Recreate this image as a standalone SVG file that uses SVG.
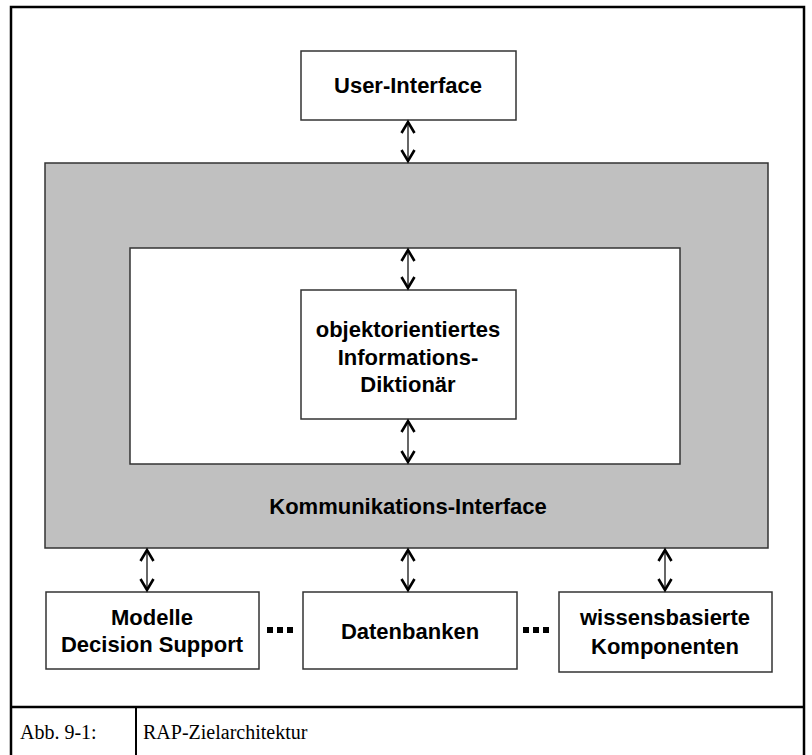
<svg xmlns="http://www.w3.org/2000/svg" width="812" height="755" viewBox="0 0 812 755">
  <style>
    .box { fill: #ffffff; stroke: #333333; stroke-width: 1.5; }
    .shell { fill: #c0c0c0; stroke: #333333; stroke-width: 1.5; }
    .lbl { font-family: "Liberation Sans", Arial, sans-serif; font-weight: bold; font-size: 22px; fill: #000000; text-anchor: middle; }
    .cap { font-family: "Liberation Serif", "Times New Roman", serif; font-size: 20px; fill: #000000; }
    .link { stroke: #000000; stroke-width: 1.2; fill: none; marker-start: url(#head); marker-end: url(#head); }
    .dots { fill: #000000; }
  </style>
  <defs>
    <!-- open chevron head; tip sits on the line end, points along the line -->
    <marker id="head" viewBox="-16 -8 18 16" refX="0" refY="0" markerWidth="18" markerHeight="16" markerUnits="userSpaceOnUse" orient="auto-start-reverse">
      <path d="M-12,-6.5 L-1,0 L-12,6.5" fill="none" stroke="#000000" stroke-width="2.6" stroke-linejoin="miter"/>
    </marker>
  </defs>

  <!-- figure frame with caption row -->
  <g id="frame">
    <rect x="11" y="7" width="793" height="760" fill="none" stroke="#000000" stroke-width="2.5"/>
    <line x1="11" y1="707" x2="804" y2="707" stroke="#000000" stroke-width="2.5"/>
    <line x1="136" y1="707" x2="136" y2="755" stroke="#000000" stroke-width="2"/>
    <text class="cap" x="20" y="739">Abb. 9-1:</text>
    <text class="cap" x="143" y="739">RAP-Zielarchitektur</text>
  </g>

  <g id="kommunikations-interface">
    <rect class="shell" x="45" y="163" width="723" height="385"/>
    <rect x="130" y="248" width="550" height="216" fill="#ffffff" stroke="#333333" stroke-width="1.5"/>
    <text class="lbl" x="408" y="514">Kommunikations-Interface</text>
  </g>

  <g id="user-interface">
    <rect class="box" x="301" y="51" width="215" height="69"/>
    <text class="lbl" x="408" y="93">User-Interface</text>
  </g>

  <g id="informations-diktionaer">
    <rect class="box" x="301" y="290" width="215" height="129"/>
    <text class="lbl" x="408" y="337">objektorientiertes</text>
    <text class="lbl" x="408" y="365">Informations-</text>
    <text class="lbl" x="408" y="392">Diktionär</text>
  </g>

  <g id="modelle-decision-support">
    <rect class="box" x="46" y="592" width="213" height="77"/>
    <text class="lbl" x="152" y="625">Modelle</text>
    <text class="lbl" x="152" y="652">Decision Support</text>
  </g>

  <g id="datenbanken">
    <rect class="box" x="303" y="592" width="214" height="77"/>
    <text class="lbl" x="410" y="639">Datenbanken</text>
  </g>

  <g id="wissensbasierte-komponenten">
    <rect class="box" x="559" y="592" width="213" height="80"/>
    <text class="lbl" x="665" y="625">wissensbasierte</text>
    <text class="lbl" x="665" y="654">Komponenten</text>
  </g>

  <!-- ellipses between the bottom components -->
  <g id="ellipses" class="dots">
    <rect x="267" y="627" width="6" height="6"/>
    <rect x="277" y="627" width="6" height="6"/>
    <rect x="287" y="627" width="6" height="6"/>
    <rect x="523" y="627" width="6" height="6"/>
    <rect x="533" y="627" width="6" height="6"/>
    <rect x="543" y="627" width="6" height="6"/>
  </g>

  <g id="connectors">
    <line class="link" x1="408" y1="121" x2="408" y2="162"/>
    <line class="link" x1="408" y1="249" x2="408" y2="289"/>
    <line class="link" x1="408" y1="420" x2="408" y2="463"/>
    <line class="link" x1="147" y1="549" x2="147" y2="591"/>
    <line class="link" x1="408" y1="549" x2="408" y2="591"/>
    <line class="link" x1="665" y1="549" x2="665" y2="591"/>
  </g>
</svg>
